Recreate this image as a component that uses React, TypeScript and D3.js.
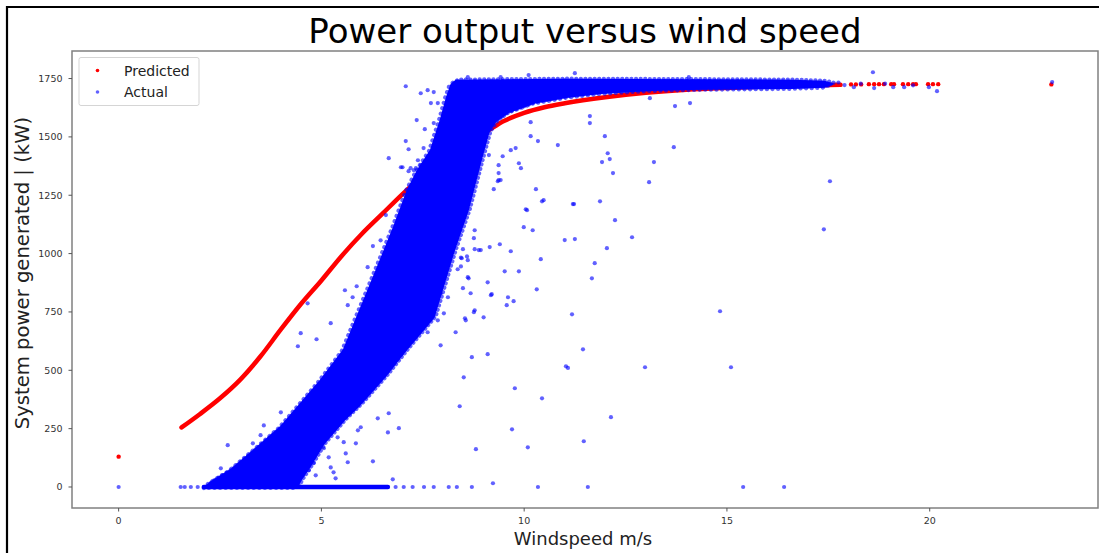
import React from "react";
import * as d3 from "d3";

// ---------- data ----------
const xTicks = [0, 5, 10, 15, 20];
const yTicks = [0, 250, 500, 750, 1000, 1250, 1500, 1750];

// Predicted curve (dense red points, drawn as a thick trace)
const predictedCurveX = [1.55, 2.0, 2.5, 3.0, 3.5, 4.0, 4.5, 5.0, 5.5, 6.0, 6.5, 7.0, 7.5, 8.0, 8.5, 9.0, 9.5, 10.0, 10.5, 11.0, 12.0, 13.0, 14.0, 15.0, 16.0, 17.0, 17.8];
const predictedCurveY = [255, 312, 380, 460, 560, 675, 785, 885, 990, 1085, 1170, 1255, 1335, 1415, 1472, 1515, 1568, 1603, 1627, 1644, 1670, 1689, 1702, 1710, 1716, 1720, 1723];
// isolated predicted points
const predictedPointsX = [0, 18.06, 18.18, 18.31, 18.5, 18.63, 18.75, 18.87, 19.05, 19.12, 19.34, 19.47, 19.59, 19.66, 19.96, 20.08, 20.21, 23.0];
const predictedPointsY = [130, 1725, 1725, 1725, 1726, 1726, 1726, 1726, 1726, 1726, 1726, 1726, 1726, 1726, 1726, 1726, 1726, 1725];

// Actual: outline of the saturated (overplotted) region
const actualDenseOutline: [number, number][] = [
  [2.15, 0], [2.27, 20], [2.76, 72], [3.43, 171], [4.0, 257], [4.42, 342], [4.98, 456], [5.55, 586], [6.29, 899],
  [6.79, 1113], [7.13, 1272], [7.38, 1357], [7.7, 1443], [7.94, 1571], [8.1, 1672], [8.2, 1722],
  [8.32, 1741], [11.0, 1745], [14.4, 1743], [16.6, 1741], [17.4, 1736], [17.6, 1727], [17.4, 1715], [16.6, 1710],
  [14.36, 1706], [13.13, 1701], [11.89, 1688], [11.08, 1672], [10.24, 1646], [9.6, 1605], [9.3, 1568], [9.12, 1520],
  [8.93, 1400], [8.61, 1186], [8.27, 1015], [7.77, 728], [7.08, 586], [6.59, 478],
  [5.97, 357], [5.55, 286], [5.06, 187], [4.74, 95], [4.49, 30], [4.4, 0],
];
// Actual: dense run of zero-output readings
const actualZeroRunStart = 2.1;
const actualZeroRunEnd = 6.64;
// Actual: individually visible points
const actualPoints: [number, number][] = [
  [0, 0], [1.53, 0], [1.63, 0], [1.78, 0], [1.95, 0], [6.83, 0], [7.03, 0], [7.25, 0], [7.53, 0], [7.77, 0],
  [8.14, 0], [8.34, 0], [8.71, 0], [10.34, 0], [11.57, 0], [15.4, 0], [16.41, 0],
  [10.29, 1276], [10.44, 1224], [10.07, 1186], [9.99, 1113], [10.21, 1100], [11.23, 1212], [11.87, 1224],
  [12.24, 1143], [12.66, 1070], [12.04, 1023], [11.74, 959], [11.67, 894], [11.25, 1062], [11.0, 1058],
  [10.41, 976], [9.67, 1010], [9.4, 1040], [9.15, 1028], [9.52, 924], [9.87, 924], [10.31, 847],
  [9.1, 877], [9.2, 826], [9.6, 813], [9.74, 796], [9.57, 779], [8.63, 894], [8.49, 852], [8.68, 830],
  [8.78, 757], [9.0, 727], [8.54, 723], [8.31, 663], [9.1, 569], [8.71, 556], [8.51, 470], [8.41, 346],
  [9.77, 423], [10.44, 380], [11.18, 740], [11.45, 590], [11.03, 517], [11.08, 510], [12.98, 513],
  [12.14, 299], [9.7, 247], [14.83, 753], [15.1, 513], [17.39, 1104], [17.54, 1310], [13.08, 1306],
  [9.25, 1276], [9.35, 1310], [8.78, 1100], [8.76, 1066], [8.78, 1019], [8.93, 1015], [8.49, 1019],
  [8.46, 980], [8.59, 988], [8.36, 933], [8.44, 945],
  [7.08, 1717], [11.25, 1773], [11.62, 1589], [11.62, 1559], [11.99, 1503], [10.83, 1465], [10.34, 1482],
  [10.16, 1503], [9.79, 1452], [9.67, 1443], [9.47, 1417], [9.87, 1387], [9.92, 1366], [9.37, 1345],
  [9.42, 1315], [10.48, 1229], [11.2, 1212], [10.04, 1190], [12.19, 1345], [11.92, 1392], [12.06, 1430],
  [12.11, 1405], [13.69, 1456], [13.2, 1392], [13.72, 1632], [14.09, 1645], [13.1, 1666], [10.16, 1563],
  [7.35, 1572], [7.08, 1482], [7.15, 1447], [7.55, 1533], [7.45, 1687], [7.62, 1700], [7.77, 1692],
  [7.87, 1645], [7.7, 1645], [7.2, 1366], [7.33, 1366], [7.0, 1370], [7.52, 1452], [7.62, 1400],
  [7.77, 1370], [7.77, 1559], [7.57, 1327], [8.61, 1756], [9.42, 1756], [10.11, 1765], [14.06, 1756],
  [6.66, 1409], [6.96, 1370], [7.15, 1353], [7.28, 1357], [7.38, 1400], [7.45, 1378], [6.59, 1165],
  [6.46, 1057], [6.27, 1032], [6.14, 942], [5.87, 860], [5.58, 843], [5.77, 813], [5.65, 779],
  [5.23, 702], [4.88, 633], [4.49, 659], [4.66, 787], [4.42, 603], [8.88, 1015], [8.61, 972], [8.44, 983],
  [8.14, 983], [8.61, 899], [9.18, 822], [8.76, 749], [8.56, 714], [8.02, 744], [8.12, 813], [7.94, 830],
  [7.94, 607], [7.62, 663], [7.87, 714], [9.37, 1379], [9.37, 1315], [9.13, 1422],
  [4.0, 320], [3.58, 264], [3.5, 222], [2.69, 179], [3.31, 187], [2.52, 80], [2.69, 59], [6.39, 294],
  [6.66, 316], [6.91, 252], [6.64, 234], [5.9, 243], [5.97, 256], [5.85, 187], [5.55, 192], [5.6, 144],
  [5.65, 106], [6.27, 110], [5.23, 84], [5.3, 63], [5.35, 37], [6.76, 33], [8.81, 162], [9.23, 16],
  [10.09, 170], [4.86, 50], [4.69, 72], [4.81, 102], [5.18, 127], [5.06, 166], [5.4, 213], [11.47, 196],
  [18.13, 1713], [18.6, 1777], [18.63, 1709], [19.1, 1713], [19.37, 1713], [19.59, 1721], [19.98, 1713],
  [20.18, 1696], [23.02, 1735], [18.3, 1728], [18.9, 1728], [17.9, 1722], [17.75, 1733],
];

const seriesNames = ["Predicted", "Actual"];
const seriesColors = ["#ff0000", "#0000ff"];

// ---------- layout ----------
const W = 1099;
const H = 553;
const plot = { left: 72, top: 51, right: 1098, bottom: 508 };

export default function App() {
  const x = d3.scaleLinear().domain([-1.15, 24.15]).range([plot.left, plot.right]);
  const y = d3.scaleLinear().domain([-90, 1868]).range([plot.bottom, plot.top]);

  const predLine = d3
    .line<number>()
    .x((_, i) => x(predictedCurveX[i]))
    .y((d) => y(d))
    .curve(d3.curveMonotoneX);

  const outline = d3
    .line<[number, number]>()
    .x((d) => x(d[0]))
    .y((d) => y(d[1]))
    .curve(d3.curveLinearClosed);
  const densePath = outline(actualDenseOutline) || "";

  const blueDot = "rgba(0,0,255,0.62)";

  return (
    <svg width={W} height={H} style={{ position: "absolute", left: 0, top: 0, background: "#fff" }}>
      <rect x={0} y={0} width={W} height={H} fill="#fff" />
      {/* outer frame of the figure image */}
      <path d={`M7,${H + 5} L7,7 L${W + 5},7`} fill="none" stroke="#000" strokeWidth={2.2} />

      {/* title */}
      <text x={585} y={43} textAnchor="middle" fontFamily="DejaVu Sans" fontSize={34} fill="#000">
        Power output versus wind speed
      </text>

      <defs>
        <clipPath id="clip">
          <rect x={plot.left} y={plot.top} width={plot.right - plot.left} height={plot.bottom - plot.top} />
        </clipPath>
      </defs>

      <g clipPath="url(#clip)">
        {/* predicted */}
        <path d={predLine(predictedCurveY) || ""} fill="none" stroke={seriesColors[0]} strokeWidth={4.5} strokeLinecap="round" />
        {predictedPointsX.map((px, i) => (
          <circle key={"p" + i} cx={x(px)} cy={y(predictedPointsY[i])} r={2.2} fill={seriesColors[0]} />
        ))}
        {/* actual: overplotted core with a dotted fringe */}
        <path d={densePath} fill="none" stroke={blueDot} strokeWidth={4.2} strokeDasharray="0.1 4.5" strokeLinecap="round"
          transform="translate(2,-1)" />
        <path d={densePath} fill="none" stroke={blueDot} strokeWidth={4.2} strokeDasharray="0.1 5.5" strokeLinecap="round"
          transform="translate(-2,1)" />
        <path d={densePath} fill={seriesColors[1]} stroke={seriesColors[1]} strokeWidth={2} strokeLinejoin="round" />
        <line x1={x(actualZeroRunStart)} x2={x(actualZeroRunEnd)} y1={y(0)} y2={y(0)} stroke={seriesColors[1]} strokeWidth={4.4} strokeLinecap="round" />
        {actualPoints.map((d, i) => (
          <circle key={"a" + i} cx={x(d[0])} cy={y(d[1])} r={2.1} fill={blueDot} />
        ))}
      </g>

      {/* axes frame */}
      <rect x={plot.left} y={plot.top} width={plot.right - plot.left} height={plot.bottom - plot.top} fill="none" stroke="#808080" strokeWidth={1.5} />

      {/* x ticks */}
      {xTicks.map((t) => (
        <g key={"xt" + t}>
          <line x1={x(t)} x2={x(t)} y1={plot.bottom} y2={plot.bottom + 3.5} stroke="#555" strokeWidth={1} />
          <text x={x(t)} y={plot.bottom + 15.5} textAnchor="middle" fontFamily="DejaVu Sans" fontSize={9.5} fill="#333">
            {t}
          </text>
        </g>
      ))}
      {/* y ticks */}
      {yTicks.map((t) => (
        <g key={"yt" + t}>
          <line x1={plot.left - 3.5} x2={plot.left} y1={y(t)} y2={y(t)} stroke="#555" strokeWidth={1} />
          <text x={plot.left - 9.5} y={y(t) + 3.4} textAnchor="end" fontFamily="DejaVu Sans" fontSize={9.5} fill="#333">
            {t}
          </text>
        </g>
      ))}

      {/* axis labels */}
      <text x={583} y={545} textAnchor="middle" fontFamily="DejaVu Sans" fontSize={18} fill="#222">
        Windspeed m/s
      </text>
      <text transform={`translate(29,${273}) rotate(-90)`} textAnchor="middle" fontFamily="DejaVu Sans" fontSize={19.6} fill="#222">
        System power generated | (kW)
      </text>

      {/* legend */}
      <rect x={79} y={57.5} width={120} height={48} rx={2} fill="#fff" fillOpacity={0.8} stroke="#d5d5d5" strokeWidth={1} />
      {seriesNames.map((name, i) => (
        <g key={name}>
          <circle cx={97.5} cy={70.5 + i * 21.5} r={1.8} fill={i === 0 ? seriesColors[0] : blueDot} />
          <text x={124} y={75.5 + i * 21.5} fontFamily="DejaVu Sans" fontSize={14} fill="#222">
            {name}
          </text>
        </g>
      ))}
    </svg>
  );
}
